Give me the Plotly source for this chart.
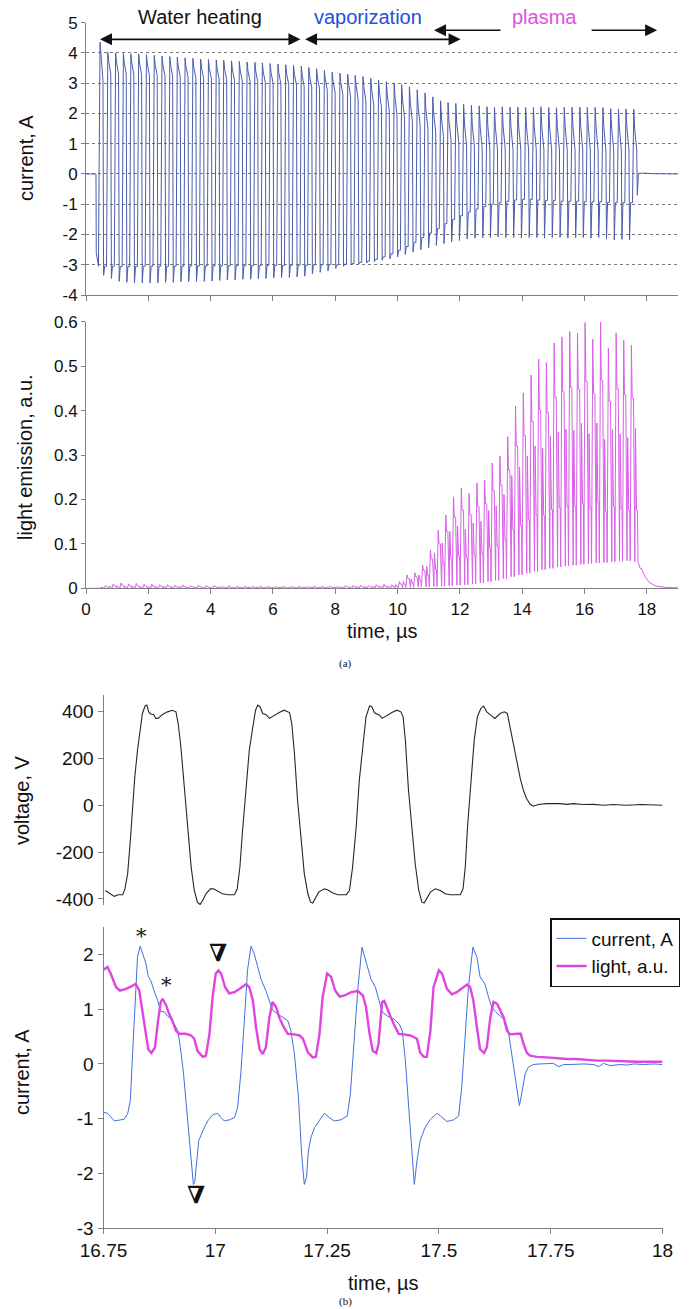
import plotly.graph_objects as go

# ---------------- Panel (a): overview, one entry per current cycle ----------------
cycle_t = [0.45, 0.70, 0.95, 1.20, 1.44, 1.69, 1.94, 2.19, 2.44, 2.69,
           2.93, 3.18, 3.43, 3.68, 3.93, 4.18, 4.42, 4.67, 4.92, 5.17,
           5.42, 5.66, 5.91, 6.16, 6.41, 6.66, 6.91, 7.15, 7.40, 7.65,
           7.90, 8.15, 8.40, 8.64, 8.89, 9.14, 9.39, 9.64, 9.89, 10.13,
           10.38, 10.63, 10.88, 11.13, 11.38, 11.62, 11.87, 12.12, 12.37, 12.62,
           12.87, 13.11, 13.36, 13.61, 13.86, 14.11, 14.36, 14.60, 14.85, 15.10,
           15.35, 15.60, 15.85, 16.09, 16.34, 16.59, 16.84, 17.09, 17.33, 17.58]

cur_hi = [4.35, 4.02, 4.00, 3.98, 3.97, 3.96, 3.94, 3.92, 3.90, 3.88,
          3.86, 3.84, 3.82, 3.80, 3.78, 3.77, 3.76, 3.74, 3.72, 3.70,
          3.69, 3.67, 3.65, 3.63, 3.61, 3.59, 3.56, 3.52, 3.48, 3.42,
          3.36, 3.33, 3.30, 3.26, 3.22, 3.16, 3.10, 3.05, 3.00, 2.95,
          2.88, 2.78, 2.68, 2.55, 2.42, 2.36, 2.33, 2.30, 2.27, 2.25,
          2.22, 2.20, 2.22, 2.20, 2.21, 2.20, 2.20, 2.22, 2.20, 2.19,
          2.20, 2.20, 2.21, 2.20, 2.20, 2.19, 2.16, 2.15, 2.15, 2.14]
cur_mid = [3.90, 3.72, 3.70, 3.68, 3.67, 3.66, 3.64, 3.62, 3.60, 3.58,
           3.56, 3.54, 3.52, 3.50, 3.48, 3.47, 3.46, 3.44, 3.42, 3.40,
           3.39, 3.37, 3.35, 3.33, 3.31, 3.29, 3.26, 3.22, 3.18, 3.12,
           3.06, 3.02, 2.98, 2.92, 2.86, 2.78, 2.70, 2.62, 2.54, 2.45,
           2.36, 2.25, 2.12, 1.98, 1.85, 1.75, 1.68, 1.62, 1.58, 1.56,
           1.55, 1.54, 1.55, 1.54, 1.55, 1.54, 1.55, 1.56, 1.55, 1.54,
           1.55, 1.55, 1.56, 1.55, 1.55, 1.54, 1.55, 1.55, 1.55, 1.50]
cur_end = [3.10, 3.30, 3.30, 3.30, 3.28, 3.28, 3.26, 3.25, 3.24, 3.22,
           3.20, 3.20, 3.18, 3.16, 3.15, 3.14, 3.12, 3.10, 3.08, 3.06,
           3.05, 3.03, 3.00, 2.98, 2.96, 2.94, 2.90, 2.86, 2.82, 2.76,
           2.70, 2.62, 2.55, 2.46, 2.38, 2.28, 2.18, 2.06, 1.95, 1.84,
           1.72, 1.60, 1.48, 1.36, 1.24, 1.12, 1.02, 0.95, 0.90, 0.86,
           0.84, 0.82, 0.82, 0.80, 0.80, 0.80, 0.80, 0.80, 0.80, 0.80,
           0.80, 0.80, 0.80, 0.80, 0.80, 0.80, 0.80, 0.80, 0.80, 0.79]
cur_lo = [-3.35, -3.45, -3.55, -3.58, -3.60, -3.60, -3.60, -3.60, -3.58, -3.58,
          -3.56, -3.56, -3.55, -3.55, -3.54, -3.52, -3.50, -3.50, -3.48, -3.48,
          -3.46, -3.45, -3.44, -3.42, -3.42, -3.40, -3.38, -3.30, -3.25, -3.20,
          -3.12, -3.05, -3.00, -2.98, -2.94, -2.90, -2.85, -2.80, -2.74, -2.66,
          -2.58, -2.50, -2.44, -2.36, -2.30, -2.24, -2.20, -2.15, -2.12, -2.10,
          -2.10, -2.08, -2.10, -2.10, -2.12, -2.10, -2.10, -2.12, -2.10, -2.10,
          -2.12, -2.10, -2.10, -2.12, -2.10, -2.15, -2.18, -2.16, -2.18, -0.70]
cur_low = [-3.05, -3.05, -3.06, -3.06, -3.06, -3.05, -3.05, -3.05, -3.05, -3.05,
           -3.05, -3.04, -3.04, -3.04, -3.04, -3.04, -3.03, -3.03, -3.03, -3.03,
           -3.03, -3.02, -3.02, -3.02, -3.02, -3.01, -3.01, -3.00, -3.00, -3.00,
           -3.00, -2.98, -2.96, -2.92, -2.88, -2.82, -2.74, -2.64, -2.52, -2.40,
           -2.26, -2.10, -1.95, -1.80, -1.64, -1.50, -1.38, -1.26, -1.16, -1.08,
           -1.00, -0.95, -0.90, -0.86, -0.84, -0.84, -0.86, -0.88, -0.88, -0.90,
           -0.90, -0.90, -0.92, -0.92, -0.92, -0.94, -0.95, -0.95, -0.95, 0.02]
cur_lead_t = [0.0, 0.32, 0.33, 0.40]
cur_lead = [0.0, 0.0, -2.6, -3.05]
cur_tail_t = [17.85, 18.2, 19.0]
cur_tail = [0.03, 0.01, 0.0]

light_tall = [0.006, 0.010, 0.012, 0.010, 0.011, 0.009, 0.009, 0.008, 0.008, 0.007,
              0.008, 0.006, 0.007, 0.006, 0.006, 0.005, 0.006, 0.005, 0.005, 0.005,
              0.005, 0.005, 0.004, 0.005, 0.004, 0.005, 0.004, 0.005, 0.005, 0.005,
              0.005, 0.006, 0.006, 0.007, 0.006, 0.008, 0.009, 0.008, 0.015, 0.030,
              0.035, 0.052, 0.086, 0.131, 0.165, 0.206, 0.226, 0.214, 0.237, 0.244,
              0.282, 0.298, 0.341, 0.410, 0.440, 0.480, 0.516, 0.508, 0.552, 0.566,
              0.578, 0.574, 0.598, 0.561, 0.600, 0.540, 0.575, 0.559, 0.547, 0.050]
light_plat = [0.004, 0.006, 0.007, 0.006, 0.006, 0.005, 0.005, 0.005, 0.005, 0.004,
              0.004, 0.004, 0.004, 0.004, 0.004, 0.003, 0.003, 0.003, 0.003, 0.003,
              0.003, 0.003, 0.003, 0.003, 0.003, 0.003, 0.003, 0.003, 0.003, 0.003,
              0.003, 0.004, 0.004, 0.004, 0.004, 0.005, 0.005, 0.005, 0.010, 0.022,
              0.026, 0.040, 0.066, 0.100, 0.128, 0.160, 0.176, 0.166, 0.184, 0.190,
              0.220, 0.232, 0.266, 0.320, 0.344, 0.375, 0.402, 0.396, 0.430, 0.442,
              0.452, 0.448, 0.466, 0.438, 0.468, 0.421, 0.449, 0.436, 0.427, 0.045]
light_sec = [0.003, 0.005, 0.006, 0.005, 0.005, 0.004, 0.004, 0.004, 0.004, 0.004,
             0.004, 0.003, 0.003, 0.003, 0.003, 0.003, 0.003, 0.003, 0.003, 0.003,
             0.003, 0.003, 0.002, 0.003, 0.002, 0.003, 0.002, 0.003, 0.003, 0.003,
             0.003, 0.003, 0.003, 0.004, 0.004, 0.005, 0.005, 0.005, 0.008, 0.016,
             0.021, 0.030, 0.050, 0.080, 0.102, 0.128, 0.140, 0.133, 0.147, 0.151,
             0.175, 0.185, 0.211, 0.254, 0.273, 0.298, 0.320, 0.315, 0.342, 0.351,
             0.358, 0.356, 0.371, 0.348, 0.372, 0.335, 0.357, 0.347, 0.339, 0.360]
light_mid = [0.002, 0.003, 0.003, 0.003, 0.003, 0.002, 0.002, 0.002, 0.002, 0.002,
             0.002, 0.002, 0.002, 0.002, 0.002, 0.002, 0.002, 0.002, 0.002, 0.002,
             0.002, 0.002, 0.002, 0.002, 0.002, 0.002, 0.002, 0.002, 0.002, 0.002,
             0.002, 0.002, 0.002, 0.002, 0.002, 0.003, 0.003, 0.003, 0.005, 0.009,
             0.011, 0.017, 0.028, 0.042, 0.053, 0.066, 0.072, 0.068, 0.076, 0.078,
             0.090, 0.095, 0.109, 0.131, 0.141, 0.154, 0.165, 0.163, 0.177, 0.181,
             0.185, 0.184, 0.191, 0.180, 0.192, 0.173, 0.184, 0.179, 0.175, 0.175]
light_base = [0.0, 0.0, 0.0, 0.0, 0.0, 0.0, 0.0, 0.0, 0.0, 0.0,
              0.0, 0.0, 0.0, 0.0, 0.0, 0.0, 0.0, 0.0, 0.0, 0.0,
              0.0, 0.0, 0.0, 0.0, 0.0, 0.0, 0.0, 0.0, 0.0, 0.0,
              0.0, 0.0, 0.0, 0.0, 0.0, 0.0, 0.0, 0.0, 0.001, 0.002,
              0.002, 0.003, 0.003, 0.004, 0.005, 0.006, 0.007, 0.008, 0.010, 0.012,
              0.015, 0.018, 0.022, 0.026, 0.030, 0.034, 0.038, 0.042, 0.045, 0.048,
              0.050, 0.052, 0.054, 0.056, 0.057, 0.058, 0.060, 0.061, 0.062, 0.060]
light_lead_t = [0.0, 0.40]
light_lead = [0.0, 0.0]
light_tail_t = [17.85, 17.95, 18.1, 18.3, 18.6, 19.0]
light_tail = [0.040, 0.025, 0.012, 0.005, 0.002, 0.001]

# ---------------- Panel (b): zoom on the last cycles ----------------
b_cur_t = [16.750, 16.759, 16.774, 16.785, 16.796, 16.804, 16.810, 16.815, 16.820, 16.826,
           16.832, 16.837, 16.845, 16.850, 16.856, 16.863, 16.871, 16.878, 16.886, 16.893,
           16.904, 16.916, 16.922, 16.929, 16.937, 16.944, 16.951, 16.954, 16.959, 16.963,
           16.972, 16.983, 16.994, 17.005, 17.013, 17.020, 17.031, 17.043, 17.050, 17.057,
           17.065, 17.072, 17.080, 17.087, 17.095, 17.102, 17.113, 17.121, 17.128, 17.140,
           17.151, 17.162, 17.169, 17.177, 17.186, 17.193, 17.199, 17.204, 17.208, 17.214,
           17.222, 17.233, 17.244, 17.255, 17.266, 17.281, 17.295, 17.302, 17.310, 17.319,
           17.328, 17.336, 17.348, 17.358, 17.369, 17.373, 17.384, 17.399, 17.411, 17.418,
           17.425, 17.432, 17.440, 17.445, 17.451, 17.458, 17.469, 17.481, 17.496, 17.507,
           17.518, 17.533, 17.544, 17.551, 17.558, 17.566, 17.576, 17.585, 17.592, 17.603,
           17.611, 17.618, 17.626, 17.633, 17.641, 17.648, 17.655, 17.663, 17.670, 17.675,
           17.680, 17.685, 17.693, 17.700, 17.711, 17.726, 17.741, 17.756, 17.768, 17.779,
           17.794, 17.809, 17.824, 17.846, 17.857, 17.868, 17.883, 17.906, 17.921, 17.936,
           17.958, 17.981, 18.000]
b_cur = [-0.88, -0.90, -1.04, -1.02, -1.01, -0.91, -0.67, 0.18, 1.10, 1.95,
         2.15, 2.01, 1.83, 1.60, 1.52, 1.34, 1.16, 0.96, 0.95, 0.88,
         0.79, 0.61, 0.30, -0.18, -0.91, -1.65, -2.20, -2.16, -1.65, -1.40,
         -1.22, -1.04, -0.93, -0.90, -0.98, -1.04, -1.02, -0.98, -0.79, -0.18,
         0.79, 1.71, 2.15, 2.01, 1.77, 1.55, 1.34, 1.13, 0.98, 0.91,
         0.85, 0.79, 0.61, 0.18, -0.61, -1.65, -2.20, -2.07, -1.59, -1.34,
         -1.16, -1.02, -0.90, -0.98, -1.04, -1.02, -0.95, -0.55, 0.30, 1.40,
         2.13, 1.89, 1.55, 1.40, 1.10, 0.95, 0.88, 0.82, 0.73, 0.61,
         0.06, -0.79, -1.65, -2.20, -1.77, -1.40, -1.16, -1.01, -0.90, -0.98,
         -1.05, -1.02, -0.95, -0.43, 0.49, 1.40, 2.13, 1.95, 1.59, 1.46,
         1.22, 1.04, 0.96, 0.91, 0.85, 0.79, 0.61, 0.18, -0.24, -0.55,
         -0.76, -0.55, -0.18, -0.06, -0.01, 0.00, 0.01, 0.01, -0.05, -0.01,
         -0.01, 0.00, 0.00, -0.01, -0.05, 0.01, -0.03, -0.01, -0.02, 0.00,
         -0.01, 0.00, -0.01]

b_light_t = [16.750, 16.759, 16.766, 16.778, 16.787, 16.800, 16.811, 16.822, 16.830, 16.836,
             16.843, 16.850, 16.857, 16.865, 16.872, 16.878, 16.882, 16.890, 16.897, 16.904,
             16.912, 16.919, 16.934, 16.946, 16.953, 16.960, 16.972, 16.979, 16.987, 16.994,
             17.001, 17.007, 17.013, 17.022, 17.031, 17.043, 17.054, 17.069, 17.076, 17.084,
             17.091, 17.099, 17.106, 17.113, 17.121, 17.128, 17.136, 17.143, 17.153, 17.162,
             17.177, 17.188, 17.196, 17.207, 17.218, 17.225, 17.233, 17.240, 17.250, 17.259,
             17.268, 17.278, 17.289, 17.304, 17.319, 17.330, 17.337, 17.345, 17.352, 17.360,
             17.365, 17.373, 17.378, 17.384, 17.391, 17.399, 17.410, 17.421, 17.436, 17.451,
             17.458, 17.466, 17.473, 17.481, 17.488, 17.500, 17.507, 17.518, 17.529, 17.540,
             17.551, 17.563, 17.570, 17.577, 17.585, 17.592, 17.601, 17.607, 17.615, 17.622,
             17.630, 17.637, 17.645, 17.652, 17.659, 17.674, 17.683, 17.689, 17.697, 17.704,
             17.719, 17.741, 17.764, 17.786, 17.808, 17.830, 17.853, 17.875, 17.897, 17.920,
             17.942, 17.972, 18.000]
b_light = [1.72, 1.77, 1.65, 1.40, 1.34, 1.37, 1.41, 1.46, 1.34, 1.04,
           0.61, 0.27, 0.20, 0.30, 0.79, 1.13, 1.19, 1.07, 0.91, 0.79,
           0.61, 0.55, 0.55, 0.52, 0.46, 0.24, 0.13, 0.15, 0.55, 1.22,
           1.65, 1.71, 1.65, 1.40, 1.29, 1.31, 1.37, 1.46, 1.40, 1.16,
           0.67, 0.27, 0.18, 0.30, 0.85, 1.13, 1.04, 0.85, 0.67, 0.55,
           0.54, 0.52, 0.46, 0.21, 0.12, 0.13, 0.55, 1.22, 1.65, 1.59,
           1.34, 1.23, 1.25, 1.31, 1.33, 1.25, 1.04, 0.55, 0.24, 0.20,
           0.37, 1.13, 1.15, 1.04, 0.88, 0.73, 0.55, 0.54, 0.52, 0.46,
           0.21, 0.13, 0.13, 0.61, 1.40, 1.71, 1.65, 1.37, 1.27, 1.31,
           1.37, 1.45, 1.40, 1.16, 0.67, 0.27, 0.20, 0.30, 0.85, 1.13,
           1.10, 0.98, 0.85, 0.61, 0.54, 0.55, 0.55, 0.37, 0.20, 0.15,
           0.13, 0.12, 0.10, 0.09, 0.09, 0.07, 0.06, 0.06, 0.05, 0.04,
           0.04, 0.04, 0.04]

b_volt_t = [16.754, 16.763, 16.774, 16.783, 16.793, 16.798, 16.804, 16.810, 16.815, 16.820,
            16.826, 16.832, 16.837, 16.843, 16.847, 16.851, 16.856, 16.862, 16.867, 16.872,
            16.882, 16.893, 16.904, 16.912, 16.917, 16.923, 16.931, 16.938, 16.946, 16.953,
            16.960, 16.966, 16.972, 16.979, 16.989, 16.996, 17.005, 17.016, 17.028, 17.043,
            17.049, 17.055, 17.061, 17.069, 17.076, 17.084, 17.090, 17.095, 17.100, 17.106,
            17.113, 17.121, 17.132, 17.143, 17.154, 17.166, 17.171, 17.177, 17.184, 17.192,
            17.199, 17.207, 17.213, 17.218, 17.223, 17.231, 17.244, 17.251, 17.263, 17.274,
            17.293, 17.300, 17.307, 17.315, 17.322, 17.330, 17.337, 17.345, 17.350, 17.356,
            17.367, 17.373, 17.384, 17.395, 17.406, 17.415, 17.420, 17.425, 17.432, 17.440,
            17.447, 17.455, 17.462, 17.467, 17.473, 17.481, 17.492, 17.503, 17.514, 17.525,
            17.548, 17.554, 17.559, 17.564, 17.572, 17.579, 17.586, 17.594, 17.600, 17.607,
            17.616, 17.625, 17.637, 17.646, 17.653, 17.659, 17.667, 17.674, 17.682, 17.689,
            17.696, 17.704, 17.711, 17.722, 17.741, 17.771, 17.786, 17.801, 17.823, 17.845,
            17.868, 17.890, 17.920, 17.954, 17.980, 18.000]
b_volt = [-364, -375, -389, -382, -382, -357, -292, -150, -7, 121,
          235, 321, 392, 424, 428, 399, 389, 388, 371, 371,
          388, 399, 406, 399, 349, 250, 64, -93, -264, -364,
          -414, -424, -406, -378, -357, -357, -367, -378, -382, -382,
          -357, -264, -107, 64, 235, 335, 406, 428, 421, 392,
          388, 371, 385, 396, 406, 396, 349, 221, 21, -150,
          -292, -378, -414, -418, -399, -371, -357, -361, -375, -382,
          -382, -364, -264, -93, 107, 264, 378, 424, 421, 395,
          385, 371, 385, 396, 406, 399, 378, 278, 64, -107,
          -250, -364, -414, -418, -399, -371, -357, -364, -378, -382,
          -382, -357, -264, -93, 107, 278, 378, 414, 424, 399,
          385, 371, 392, 399, 392, 335, 250, 178, 114, 64,
          29, 4, -4, 3, 7, 7, 4, 7, 3, 4,
          0, 3, 0, 3, 0, 0]

# within-cycle sample positions (fraction of one period) used to draw each cycle
cur_frac = [0.0, 0.12, 0.38, 0.46, 0.60, 0.84]
light_frac = [0.14, 0.22, 0.36, 0.48, 0.54, 0.70, 0.80, 0.97]


def expand(times, fracs, series, lead_x, lead_y, tail_x, tail_y):
    xs, ys = list(lead_x), list(lead_y)
    n = len(times)
    for k, t in enumerate(times):
        p = (times[k + 1] - t) if k + 1 < n else (t - times[k - 1])
        for f, s in zip(fracs, series):
            xs.append(t + f * p)
            ys.append(s[k])
    xs += list(tail_x)
    ys += list(tail_y)
    return xs, ys


a_cur_x, a_cur_y = expand(cycle_t, cur_frac,
                          [cur_hi, cur_mid, cur_end, cur_lo, cur_low, cur_low],
                          cur_lead_t, cur_lead, cur_tail_t, cur_tail)
a_li_x, a_li_y = expand(cycle_t, light_frac,
                        [light_base, light_sec, light_mid, light_mid, light_base,
                         light_tall, light_plat, light_plat],
                        light_lead_t, light_lead, light_tail_t, light_tail)

FONT = "Liberation Sans, Arial, sans-serif"
AX = "#808080"

fig = go.Figure()
fig.add_trace(go.Scatter(x=a_cur_x, y=a_cur_y, mode="lines", xaxis="x", yaxis="y",
                         line=dict(color="#4a5cab", width=1), showlegend=False))
fig.add_trace(go.Scatter(x=a_li_x, y=a_li_y, mode="lines", xaxis="x2", yaxis="y2",
                         line=dict(color="#d760e6", width=1), showlegend=False))
fig.add_trace(go.Scatter(x=b_volt_t, y=b_volt, mode="lines", xaxis="x3", yaxis="y3",
                         line=dict(color="#262626", width=1.1), showlegend=False))
fig.add_trace(go.Scatter(x=b_cur_t, y=b_cur, mode="lines", xaxis="x4", yaxis="y4",
                         name="current, A", line=dict(color="#3f6fdc", width=1)))
fig.add_trace(go.Scatter(x=b_light_t, y=b_light, mode="lines", xaxis="x4", yaxis="y4",
                         name="light, a.u.", line=dict(color="#e045e0", width=2.4)))

W, H = 690, 1309


def xdom(a, b):
    return [a / W, b / W]


def ydom(top, bottom):
    return [(H - bottom) / H, (H - top) / H]


def labels(vals):
    return [("%g" % v).replace("\u2212", "-") for v in vals]


common = dict(showline=True, linecolor=AX, linewidth=1, ticks="outside", ticklen=5,
              tickcolor=AX, zeroline=False, showgrid=False, automargin=False,
              tickfont=dict(family=FONT, size=17, color="#111"))
big = {**common, "tickfont": dict(family=FONT, size=19, color="#111")}

ya_vals = [-4, -3, -2, -1, 0, 1, 2, 3, 4, 5]
ya2_vals = [0, 0.1, 0.2, 0.3, 0.4, 0.5, 0.6]
xa_vals = [0, 2, 4, 6, 8, 10, 12, 14, 16, 18]
yv_vals = [-400, -200, 0, 200, 400]
yb_vals = [-3, -2, -1, 0, 1, 2]
xb_vals = [16.75, 17, 17.25, 17.5, 17.75, 18]

fig.update_layout(
    template="none",
    width=W, height=H, autosize=False,
    margin=dict(l=0, r=0, t=0, b=0, pad=0),
    paper_bgcolor="white", plot_bgcolor="white",
    font=dict(family=FONT, color="#111"),
    showlegend=True,
    legend=dict(x=680 / W, y=(H - 918) / H, xanchor="right", yanchor="top",
                bordercolor="#111", borderwidth=1.5, bgcolor="white",
                font=dict(family=FONT, size=19, color="#111"),
                tracegroupgap=0, itemwidth=30),
    xaxis=dict(domain=xdom(86, 678), anchor="y", range=[0, 19],
               tickvals=xa_vals, showticklabels=False, **common),
    yaxis=dict(domain=ydom(22.7, 295), anchor="x", range=[-4, 5],
               tickvals=ya_vals, ticktext=labels(ya_vals),
               **{**common, "showgrid": True, "gridcolor": "#7a7a7a",
                  "griddash": "dot", "gridwidth": 1, "ticklen": 4}),
    xaxis2=dict(domain=xdom(86, 678), anchor="y2", range=[0, 19],
                tickvals=xa_vals, ticktext=labels(xa_vals), **common),
    yaxis2=dict(domain=ydom(321.7, 588.3), anchor="x2", range=[0, 0.6],
                tickvals=ya2_vals, ticktext=labels(ya2_vals), **{**common, "ticklen": 4}),
    xaxis3=dict(domain=xdom(103.5, 662.5), anchor="y3", range=[16.75, 18],
                visible=False, automargin=False),
    yaxis3=dict(domain=ydom(695, 905), anchor="x3", range=[-426, 471],
                tickvals=yv_vals, ticktext=labels(yv_vals), **big),
    xaxis4=dict(domain=xdom(103.5, 662.5), anchor="y4", range=[16.75, 18],
                tickvals=xb_vals, ticktext=["16.75", "17", "17.25", "17.5", "17.75", "18"],
                **big),
    yaxis4=dict(domain=ydom(927, 1228.3), anchor="x4", range=[-3, 2.5],
                tickvals=yb_vals, ticktext=labels(yb_vals), **big),
)

ann = []


def ptext(text, x, y, size, angle=0, color="#111", family=FONT):
    ann.append(dict(text=text, x=x / W, y=(H - y) / H, xref="paper", yref="paper",
                    showarrow=False, textangle=angle, xanchor="center", yanchor="middle",
                    font=dict(family=family, size=size, color=color)))


# axis titles and captions
ptext("current, A", 26, 158, 20, -90)
ptext("light emission, a.u.", 25, 457, 20, -90)
ptext("time, \u00b5s", 382, 631, 20)
ptext("(a)", 345, 663, 11, family="Liberation Serif, Times New Roman, serif")
ptext("voltage, V", 22, 800, 20, -90)
ptext("current, A", 22, 1072, 20, -90)
ptext("time, \u00b5s", 383, 1283, 20)
ptext("(b)", 345, 1301, 11, family="Liberation Serif, Times New Roman, serif")

# phase labels (panel a; x in data units, y in paper units above the plot)
for txt, xv, col in [("Water heating", 3.66, "#111"), ("vaporization", 9.05, "#2350d8"),
                     ("plasma", 14.73, "#e050e0")]:
    ann.append(dict(text=txt, x=xv, y=(H - 17) / H, xref="x", yref="paper",
                    showarrow=False, font=dict(family=FONT, size=20, color=col),
                    xanchor="center", yanchor="middle"))

# arrows: (head x, tail x, y, sides)
for hx, tx, yv, side in [(0.45, 6.93, 4.45, "end+start"), (7.03, 12.07, 4.45, "end+start"),
                         (11.17, 13.35, 4.75, "end"), (18.33, 16.18, 4.75, "end")]:
    ann.append(dict(x=hx, y=yv, ax=tx, ay=yv, xref="x", yref="y", axref="x", ayref="y",
                    text="", showarrow=True, arrowhead=2, arrowsize=1.5, arrowwidth=1.6,
                    arrowcolor="#111", arrowside=side, standoff=0, startstandoff=0))

# markers in panel b
for txt, xv, yv, sz in [("*", 16.834, 2.33, 21), ("*", 16.89, 1.44, 21),
                        ("<b>\u2207</b>", 17.007, 2.04, 24), ("<b>\u2207</b>", 16.957, -2.38, 24)]:
    ann.append(dict(text=txt, x=xv, y=yv, xref="x4", yref="y4", showarrow=False,
                    font=dict(family="DejaVu Serif, serif", size=sz, color="#111"),
                    xanchor="center", yanchor="middle"))

fig.update_layout(annotations=ann)

fig.write_html("out.html", config={"displayModeBar": False},
               post_script="document.body.style.margin='0px';")
